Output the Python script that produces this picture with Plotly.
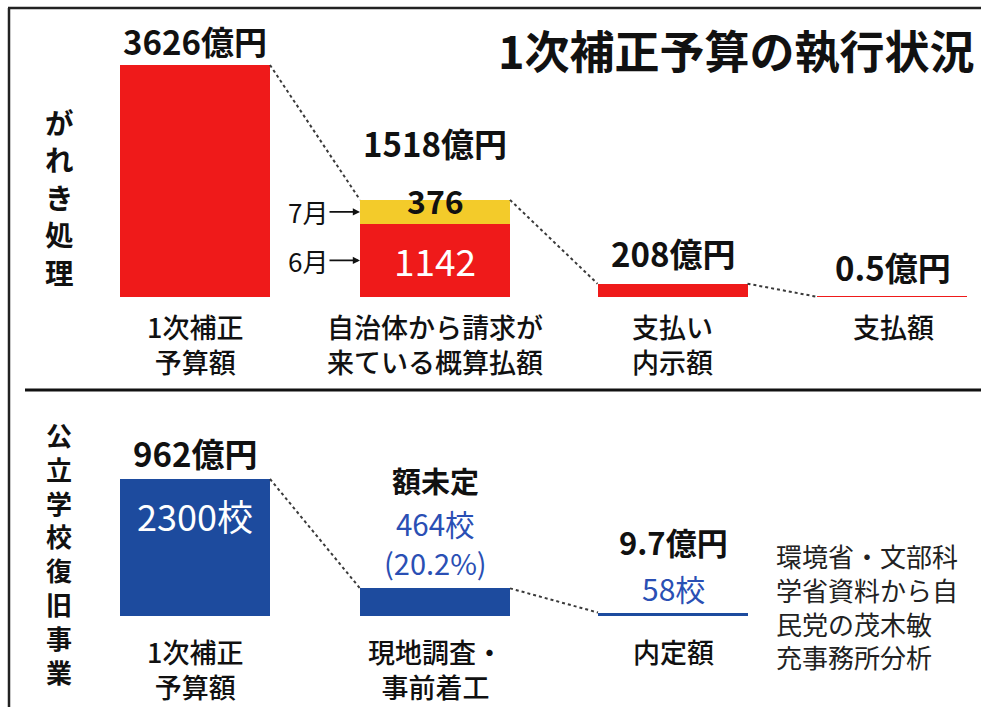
import plotly.graph_objects as go

# ---------------- data ----------------
debris_categories = ["1次補正<br>予算額", "自治体から請求が<br>来ている概算払額", "支払い<br>内示額", "支払額"]
debris_june = [3626, 1142, 208, 0.5]          # 億円 (6月分 / 全体)
debris_july = [None, 376, None, None]          # 億円 (7月分)
debris_totals = [3626, 1518, 208, 0.5]
debris_labels = ["3626億円", "1518億円", "208億円", "0.5億円"]

school_categories = ["1次補正<br>予算額", "現地調査・<br>事前着工", "内定額"]
school_counts = [2300, 464, 58]                # 校
school_count_labels = ["2300校", "464校", "58校"]
school_amount_labels = ["962億円", "額未定", "9.7億円"]
school_share_label = "(20.2%)"

title_text = "1次補正予算の執行状況"
panel_titles = ["がれき処理", "公立学校復旧事業"]
source_lines = ["環境省・文部科", "学省資料から自", "民党の茂木敏", "充事務所分析"]

# ---------------- layout constants ----------------
W, H = 981, 707
FONT = "Noto Sans CJK JP"
RED = "#ef1a1a"
YELLOW = "#f3cb2a"
BLUE = "#1d4b9e"
BLUE_TXT = "#2a4fb4"
DOT = "#3a3a3a"

top_x = [195, 435, 672.5, 893]
bot_x = [195, 435, 673]
BAR_W = 150

def py(p):
    return 1 - p / H

def px(p):
    return p / W

# top panel: pixel rows 0..390, baseline at 297, 3626 -> 232 px
top_base, top_k = 297, 232 / 3626
top_range = [(top_base - 390) / top_k, top_base / top_k]
# bottom panel: pixel rows 390..707, baseline at 616, 2300 -> 137 px
bot_base, bot_k = 616, 137 / 2300
bot_range = [(bot_base - H) / bot_k, (bot_base - 390) / bot_k]

fig = go.Figure()

# ---- top bars ----
fig.add_trace(go.Bar(x=top_x, y=debris_june, width=BAR_W, marker=dict(color=RED,
                     line=dict(color=RED, width=[0, 0, 0, 1.2])),
                     xaxis="x", yaxis="y", hoverinfo="skip"))
fig.add_trace(go.Bar(x=top_x, y=debris_july, width=BAR_W, marker=dict(color=YELLOW, line=dict(width=0)),
                     xaxis="x", yaxis="y", hoverinfo="skip"))

# ---- bottom bars ----
fig.add_trace(go.Bar(x=bot_x, y=school_counts, width=BAR_W, marker=dict(color=BLUE, line=dict(width=0)),
                     xaxis="x2", yaxis="y2", hoverinfo="skip"))

# ---- dotted connectors ----
for i in range(len(top_x) - 1):
    fig.add_trace(go.Scatter(x=[top_x[i] + BAR_W / 2, top_x[i + 1] - BAR_W / 2],
                             y=[debris_totals[i], debris_totals[i + 1]], mode="lines",
                             line=dict(color=DOT, width=2, dash="dot"),
                             xaxis="x", yaxis="y", hoverinfo="skip"))
for i in range(len(bot_x) - 1):
    fig.add_trace(go.Scatter(x=[bot_x[i] + BAR_W / 2, bot_x[i + 1] - BAR_W / 2],
                             y=[school_counts[i], school_counts[i + 1]], mode="lines",
                             line=dict(color=DOT, width=2, dash="dot"),
                             xaxis="x2", yaxis="y2", hoverinfo="skip"))

ann = []
CAT_FONT = dict(size=27, color="#111", weight=500)

# value labels top
top_shift = [24, 57, 31, 30]
for i, lab in enumerate(debris_labels):
    ann.append(dict(x=top_x[i], y=debris_totals[i], xref="x", yref="y", text="<b>%s</b>" % lab,
                    showarrow=False, yanchor="middle", yshift=top_shift[i],
                    font=dict(size=33, color="#111")))
# stacked segment labels
ann.append(dict(x=top_x[1], y=debris_totals[1], xref="x", yref="y", text="<b>%d</b>" % debris_july[1],
                showarrow=False, yanchor="middle", yshift=0, font=dict(size=32, color="#111")))
ann.append(dict(x=top_x[1], y=debris_june[1] / 2, xref="x", yref="y", text="%d" % debris_june[1],
                showarrow=False, yanchor="middle", yshift=0, font=dict(size=37, color="white")))
# 7月 / 6月 pointers
for txt, yv in [("7月", debris_june[1] + debris_july[1] / 2), ("6月", debris_june[1] / 2)]:
    ann.append(dict(x=top_x[1] - BAR_W / 2, y=yv, xref="x", yref="y", text=txt,
                    showarrow=True, arrowhead=2, arrowsize=0.8, arrowwidth=1.8, arrowcolor="#111",
                    ax=-52, ay=0, font=dict(size=26, color="#111")))
# category labels top
for i, lab in enumerate(debris_categories):
    ann.append(dict(x=top_x[i], y=0, xref="x", yref="y", text=lab, showarrow=False,
                    yanchor="top", yshift=-8, font=CAT_FONT))

# bottom labels
ann.append(dict(x=bot_x[0], y=school_counts[0], xref="x2", yref="y2", text="<b>%s</b>" % school_amount_labels[0],
                showarrow=False, yanchor="middle", yshift=26, font=dict(size=33, color="#111")))
ann.append(dict(x=bot_x[0], y=school_counts[0], xref="x2", yref="y2", text=school_count_labels[0],
                showarrow=False, yanchor="middle", yshift=-36, font=dict(size=36, color="white")))
ann.append(dict(x=bot_x[1], y=school_counts[1], xref="x2", yref="y2", text="<b>%s</b>" % school_amount_labels[1],
                showarrow=False, yanchor="middle", yshift=108, font=dict(size=29, color="#111")))
ann.append(dict(x=bot_x[1], y=school_counts[1], xref="x2", yref="y2", text=school_count_labels[1],
                showarrow=False, yanchor="middle", yshift=65, font=dict(size=29.5, color=BLUE_TXT)))
ann.append(dict(x=bot_x[1], y=school_counts[1], xref="x2", yref="y2", text=school_share_label,
                showarrow=False, yanchor="middle", yshift=26, font=dict(size=29, color=BLUE_TXT)))
ann.append(dict(x=bot_x[2], y=school_counts[2], xref="x2", yref="y2", text="<b>%s</b>" % school_amount_labels[2],
                showarrow=False, yanchor="middle", yshift=71, font=dict(size=31, color="#111")))
ann.append(dict(x=bot_x[2], y=school_counts[2], xref="x2", yref="y2", text=school_count_labels[2],
                showarrow=False, yanchor="middle", yshift=25, font=dict(size=30, color=BLUE_TXT)))
for i, lab in enumerate(school_categories):
    ann.append(dict(x=bot_x[i], y=0, xref="x2", yref="y2", text=lab, showarrow=False,
                    yanchor="top", yshift=-14, font=CAT_FONT))

# title
ann.append(dict(x=px(977), y=py(49), xref="paper", yref="paper", text="<b>%s</b>" % title_text,
                showarrow=False, xanchor="right", yanchor="middle", font=dict(size=45, color="#111")))

# vertical panel titles
# top: one annotation per character (pitch 37.5 px)
for j, ch in enumerate(panel_titles[0]):
    ann.append(dict(x=px(59), y=py(121 + j * 37.5), xref="paper", yref="paper", text="<b>%s</b>" % ch,
                    showarrow=False, xanchor="center", yanchor="middle",
                    font=dict(size=28.5, color="#111")))
# bottom: stacked characters in one annotation
ann.append(dict(x=px(59), y=py(553), xref="paper", yref="paper",
                text="<br>".join("<b>%s</b>" % ch for ch in panel_titles[1]),
                showarrow=False, xanchor="center", yanchor="middle",
                font=dict(size=26, color="#111")))

# source note
ann.append(dict(x=px(774), y=py(606), xref="paper", yref="paper", text="<br>".join(source_lines),
                showarrow=False, xanchor="left", yanchor="middle", align="left",
                font=dict(size=26, color="#222")))

shapes = [
    dict(type="line", xref="paper", yref="paper", x0=px(8), x1=1, y0=py(8), y1=py(8),
         line=dict(color="#222", width=2.5)),
    dict(type="line", xref="paper", yref="paper", x0=px(9), x1=px(9), y0=py(8), y1=0,
         line=dict(color="#222", width=2.5)),
    dict(type="line", xref="paper", yref="paper", x0=px(25), x1=1, y0=py(390), y1=py(390),
         line=dict(color="#111", width=3)),
]

axis_common = dict(visible=False, showgrid=False, zeroline=False, fixedrange=True)
fig.update_layout(
    width=W, height=H,
    margin=dict(l=0, r=0, t=0, b=0),
    paper_bgcolor="white", plot_bgcolor="rgba(0,0,0,0)",
    barmode="stack", bargap=0, showlegend=False,
    font=dict(family=FONT, color="#111"),
    xaxis=dict(domain=[0, 1], range=[0, W], anchor="y", **axis_common),
    yaxis=dict(domain=[py(390), 1], range=top_range, anchor="x", **axis_common),
    xaxis2=dict(domain=[0, 1], range=[0, W], anchor="y2", **axis_common),
    yaxis2=dict(domain=[0, py(390)], range=bot_range, anchor="x2", **axis_common),
    annotations=ann, shapes=shapes,
)

fig.write_html("out.html", config={"displayModeBar": False},
               post_script="document.body.style.margin='0';document.body.style.overflow='hidden';")
